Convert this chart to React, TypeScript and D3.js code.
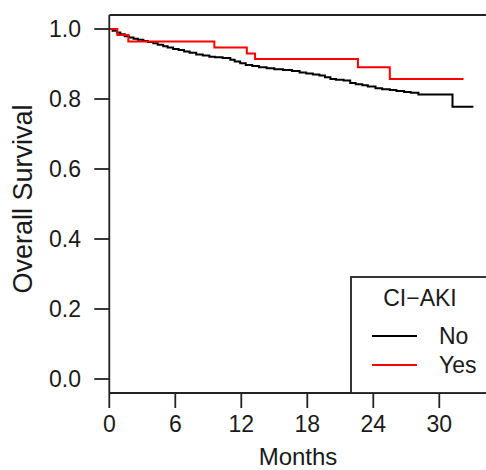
import React from "react";
import * as d3 from "d3";

const xTicks = [0, 6, 12, 18, 24, 30];
const yTicks = [0, 0.2, 0.4, 0.6, 0.8, 1.0];
const yTickLabels = ["0.0", "0.2", "0.4", "0.6", "0.8", "1.0"];

// CI-AKI = No (step times in months, survival after each step)
const noTimes = [0, 0.3, 0.7, 1.0, 1.4, 1.8, 2.2, 2.6, 3.1, 3.5, 4.0, 4.4, 4.9, 5.3, 5.8, 6.3, 6.8, 7.3, 7.9, 8.5, 9.1, 9.6, 10.3, 11.0, 11.4, 11.9, 12.4, 13.0, 13.6, 14.3, 15.0, 15.8, 16.6, 17.3, 17.9, 18.5, 19.1, 19.6, 20.1, 20.6, 21.3, 21.9, 22.4, 23.0, 23.5, 24.2, 24.8, 25.5, 26.1, 26.8, 27.4, 28.1, 31.2];
const noSurv = [1.0, 0.995, 0.99, 0.985, 0.979, 0.976, 0.972, 0.969, 0.966, 0.963, 0.959, 0.955, 0.951, 0.947, 0.943, 0.94, 0.936, 0.932, 0.927, 0.924, 0.921, 0.919, 0.917, 0.912, 0.907, 0.902, 0.897, 0.894, 0.891, 0.888, 0.885, 0.883, 0.88, 0.876, 0.873, 0.87, 0.867, 0.862, 0.857, 0.855, 0.853, 0.846, 0.842, 0.839, 0.836, 0.831, 0.828, 0.826, 0.823, 0.82, 0.818, 0.813, 0.778];
const noEnd = 33.1;

// CI-AKI = Yes
const yesTimes = [0, 0.73, 1.73, 9.55, 12.5, 13.25, 22.6, 25.5];
const yesSurv = [1.0, 0.983, 0.964, 0.947, 0.93, 0.914, 0.891, 0.857];
const yesEnd = 32.2;

const legendLabels = ["No", "Yes"];
const legendColors = ["#000000", "#ff0000"];

const W = 486;
const H = 470;
const left = 109.3;
const top = 15;
const bottom = 393;
const right = 490;

export default function App() {
  const x = d3.scaleLinear().domain([0, 6]).range([left, left + 66]);
  const y = d3.scaleLinear().domain([0, 1]).range([379, 29]);

  const stepLine = d3
    .line<[number, number]>()
    .x((d) => x(d[0]))
    .y((d) => y(d[1]))
    .curve(d3.curveStepAfter);

  const noPts: [number, number][] = noTimes.map((t, i) => [t, noSurv[i]]);
  noPts.push([noEnd, noSurv[noSurv.length - 1]]);
  const yesPts: [number, number][] = yesTimes.map((t, i) => [t, yesSurv[i]]);
  yesPts.push([yesEnd, yesSurv[yesSurv.length - 1]]);

  const font = "'Liberation Sans', Arial, sans-serif";
  const fs = 23;
  const txt = "#1a1a1a";

  return (
    <svg
      width={W}
      height={H}
      style={{ position: "absolute", left: 0, top: 0, background: "#fff" }}
      fontFamily={font}
    >
      <rect x={0} y={0} width={W} height={H} fill="#fff" />
      {/* curves */}
      <path d={stepLine(noPts) || ""} fill="none" stroke="#000" strokeWidth={2} />
      <path d={stepLine(yesPts) || ""} fill="none" stroke="#ff0000" strokeWidth={2} />

      {/* box */}
      <line x1={left} x2={right} y1={top} y2={top} stroke="#222" strokeWidth={1.8} />
      <line x1={left} x2={left} y1={top} y2={bottom} stroke="#222" strokeWidth={1.8} />
      <line x1={left} x2={right} y1={bottom} y2={bottom} stroke="#222" strokeWidth={1.8} />

      {/* x ticks */}
      {xTicks.map((t) => (
        <g key={"x" + t}>
          <line x1={x(t)} x2={x(t)} y1={bottom} y2={bottom + 15} stroke="#222" strokeWidth={1.8} />
          <text x={x(t)} y={432} textAnchor="middle" fontSize={fs} fill={txt}>
            {t}
          </text>
        </g>
      ))}
      {/* y ticks */}
      {yTicks.map((v, i) => (
        <g key={"y" + v}>
          <line x1={left - 15} x2={left} y1={y(v)} y2={y(v)} stroke="#222" strokeWidth={1.8} />
          <text x={81} y={y(v)} dy="0.36em" textAnchor="end" fontSize={fs} fill={txt}>
            {yTickLabels[i]}
          </text>
        </g>
      ))}

      <text x={298} y={465} textAnchor="middle" fontSize={24} fill={txt}>
        Months
      </text>
      <text
        transform={`translate(32, 199) rotate(-90)`}
        textAnchor="middle"
        fontSize={27}
        fill={txt}
      >
        Overall Survival
      </text>

      {/* legend */}
      <rect x={351} y={277} width={140} height={bottom - 277} fill="#fff" stroke="#222" strokeWidth={1.8} />
      <text x={420} y={306} textAnchor="middle" fontSize={fs} fill={txt}>
        CI−AKI
      </text>
      {legendLabels.map((lab, i) => (
        <g key={lab}>
          <line x1={372} x2={417} y1={336 + i * 29} y2={336 + i * 29} stroke={legendColors[i]} strokeWidth={2} />
          <text x={439} y={336 + i * 29} dy="0.36em" fontSize={fs} fill={txt}>
            {lab}
          </text>
        </g>
      ))}
    </svg>
  );
}
